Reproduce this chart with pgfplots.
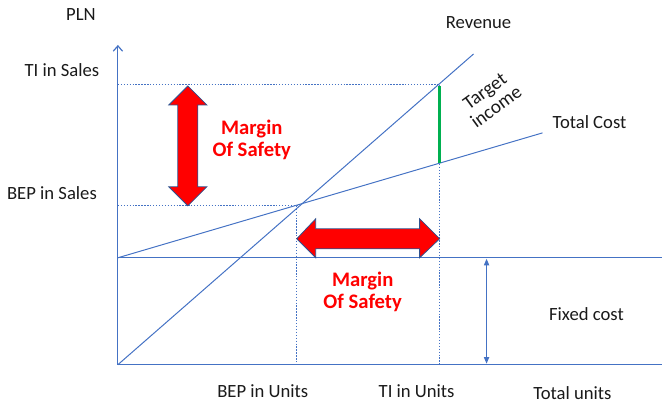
\documentclass[border=0pt]{standalone}
\usepackage{pgfplots}
\pgfplotsset{compat=1.18}
\usepackage{fontspec}
\setmainfont{Carlito}
\usetikzlibrary{arrows.meta}
\definecolor{lineblue}{HTML}{4472C4}
\definecolor{outl}{HTML}{2F528F}
\definecolor{tgreen}{HTML}{00B050}
\definecolor{txt}{HTML}{1A1A1A}
\tikzset{lbl/.style={font=\fontsize{14pt}{16pt}\selectfont, text=txt, inner sep=0pt},
         mos/.style={align=center, text=red, inner sep=0pt, font=\fontsize{15.5pt}{17pt}\selectfont\bfseries}}
\begin{document}
\begin{tikzpicture}
\begin{axis}[
    width=497.25pt, height=303pt, scale only axis,
    xmin=0, xmax=663, ymin=0, ymax=404, y dir=reverse,
    hide axis, clip=false,
]
% frame extent
\addplot[draw=none] coordinates {(0,0) (663,404)};
% axes
\addplot[lineblue, line width=0.9pt, -{Straight Barb[length=4pt,width=7pt]}] coordinates {(118,365) (118,45)};
\addplot[lineblue, line width=0.9pt] coordinates {(118,365) (663,365)};
% fixed cost line
\addplot[lineblue, line width=0.9pt] coordinates {(118,258) (663,258)};
% revenue
\addplot[lineblue, line width=0.75pt] coordinates {(118,365) (474,54)};
% total cost
\addplot[lineblue, line width=0.75pt] coordinates {(118,258) (543,133)};
% dotted guides
\addplot[lineblue, line width=0.75pt, dash pattern=on 1pt off 1.2pt] coordinates {(118,85) (440,85)};
\addplot[lineblue, line width=0.75pt, dash pattern=on 1pt off 1.2pt] coordinates {(118,206) (297,206)};
\addplot[lineblue, line width=0.75pt, dash pattern=on 1pt off 1.2pt] coordinates {(297,206) (297,365)};
\addplot[lineblue, line width=0.75pt, dash pattern=on 1pt off 1.2pt] coordinates {(440,85) (440,365)};
% target income
\addplot[tgreen, line width=2pt] coordinates {(440,86) (440,163)};
% fixed cost arrow
\addplot[lineblue, line width=0.75pt, {Triangle[length=5pt,width=4pt]}-{Triangle[length=5pt,width=4pt]}] coordinates {(487,259) (487,364)};
% vertical margin of safety arrow
\addplot[fill=red, draw=outl, line width=0.6pt] coordinates {
    (188,86) (207,105) (198,105) (198,187) (207,187) (188,206)
    (169,187) (178,187) (178,105) (169,105)} -- cycle;
% horizontal margin of safety arrow
\addplot[fill=red, draw=outl, line width=0.6pt] coordinates {
    (297,239) (316,219) (316,229) (420,229) (420,219) (440,239)
    (420,258) (420,249) (316,249) (316,258)} -- cycle;
% labels
\node[lbl] at (axis cs:81,15) {PLN};
\node[lbl] at (axis cs:62,70) {TI in Sales};
\node[lbl] at (axis cs:52,193) {BEP in Sales};
\node[lbl] at (axis cs:479,23) {Revenue};
\node[lbl] at (axis cs:590,122) {Total Cost};
\node[lbl, align=center, rotate=36, font=\fontsize{14.5pt}{14.5pt}\selectfont] at (axis cs:491,99) {Target\\income};
\node[lbl] at (axis cs:587,314) {Fixed cost};
\node[lbl] at (axis cs:263,391) {BEP in Units};
\node[lbl] at (axis cs:417,391) {TI in Units};
\node[lbl] at (axis cs:573,393) {Total units};
\node[mos] at (axis cs:252,140) {Margin\\Of Safety};
\node[mos] at (axis cs:363,292) {Margin\\Of Safety};
\end{axis}
\end{tikzpicture}
\end{document}
